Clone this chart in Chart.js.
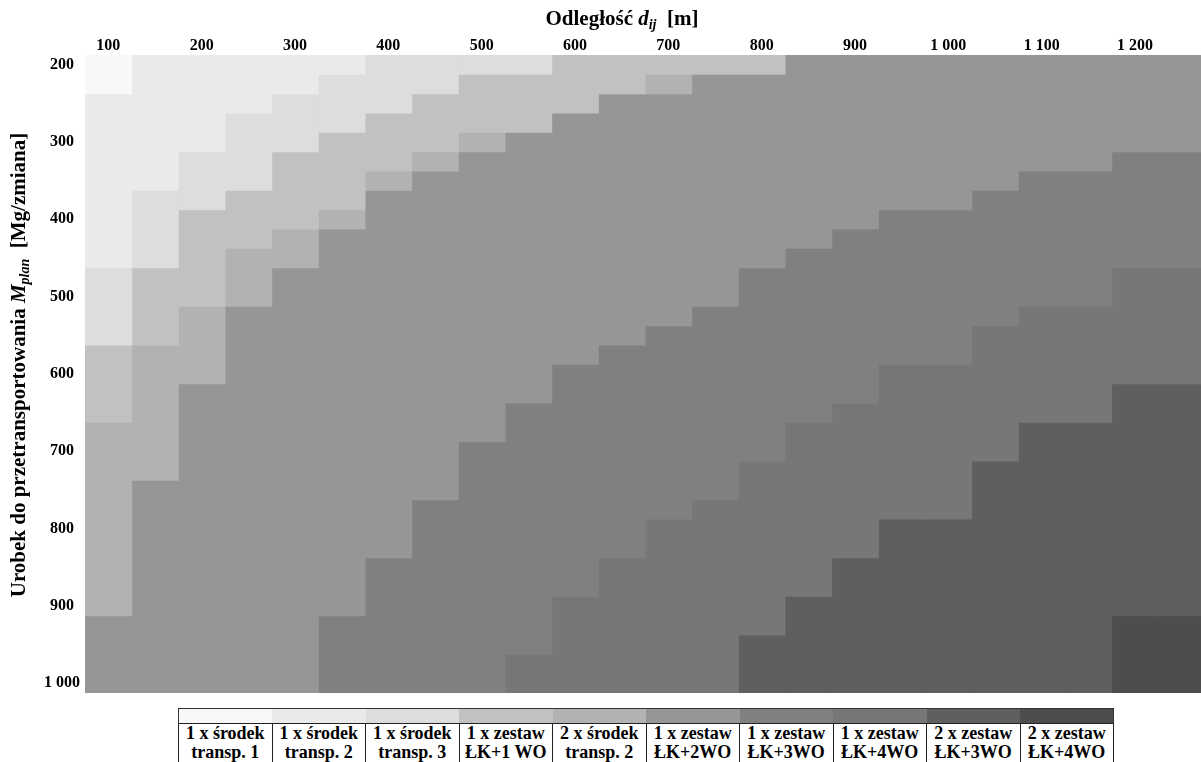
<!DOCTYPE html>
<html>
<head>
<meta charset="utf-8">
<script src="https://cdn.jsdelivr.net/npm/chart.js@4.4.1/dist/chart.umd.min.js"></script>
<style>
  html, body { margin: 0; padding: 0; background: #fff; width: 1201px; height: 762px; overflow: hidden; }
  .serif { font-family: "Liberation Serif", "Times New Roman", serif; font-weight: bold; color: #000; }
  #wrap { position: absolute; left: 0; top: 0; width: 1205px; height: 693px; }
  #xtitle { position: absolute; left: 0; top: 5px; width: 1244px; text-align: center; font-size: 21px; line-height: 26px; white-space: nowrap; }
  #ytitle { position: absolute; left: -332px; top: 352px; width: 700px; height: 26px; line-height: 26px; text-align: center;
            font-size: 21px; white-space: nowrap; transform: rotate(-90deg); }
  sub { font-size: 14px; vertical-align: -4px; line-height: 0; }
  #legend { position: absolute; left: 178px; top: 708px; width: 936px; border-collapse: collapse; table-layout: fixed; }
  #legend td { padding: 0; text-align: center; }
  #legend tr.sw td { height: 14px; border-top: 1px solid #333; }
  #legend tr.sw td:first-child { border-left: 1px solid #333; }
  #legend tr.sw td:last-child { border-right: 1px solid #333; }
  #legend tr.tx td { border: 1px solid #222; border-bottom: none; font-size: 18px; line-height: 19px; padding-top: 0; white-space: nowrap; }
</style>
</head>
<body>
<div id="wrap"><canvas id="c"></canvas></div>
<div id="xtitle" class="serif">Odległość <i>d<sub>ij</sub></i>&nbsp; [m]</div>
<div id="ytitle" class="serif">Urobek do przetransportowania <i>M<sub>plan</sub></i>&nbsp; [Mg/zmiana]</div>
<table id="legend" class="serif"><tr class="sw"></tr><tr class="tx"></tr></table>
<script>
// Haul distance d_ij [m] – one column per value
const distances = [100, 150, 200, 250, 300, 350, 400, 450, 500, 550, 600, 650,
                   700, 750, 800, 850, 900, 950, 1000, 1050, 1100, 1150, 1200, 1250];
// Planned output M_plan [Mg/shift] – one row per value
const outputs = [200, 225, 250, 275, 300, 325, 350, 375, 400, 425, 450, 475, 500, 525, 550, 575, 600,
                 625, 650, 675, 700, 725, 750, 775, 800, 825, 850, 875, 900, 925, 950, 975, 1000];
const outputStep = 25;

// Axis tick labels
const xTickValues = [100, 200, 300, 400, 500, 600, 700, 800, 900, 1000, 1100, 1200];
const yTickValues = [200, 300, 400, 500, 600, 700, 800, 900, 1000];

// Transport variants (legend) and their fill colours
const classLabels = [
  ['1 x środek', 'transp. 1'], ['1 x środek', 'transp. 2'], ['1 x środek', 'transp. 3'],
  ['1 x zestaw', 'ŁK+1 WO'], ['2 x środek', 'transp. 2'], ['1 x zestaw', 'ŁK+2WO'],
  ['1 x zestaw', 'ŁK+3WO'], ['1 x zestaw', 'ŁK+4WO'], ['2 x zestaw', 'ŁK+3WO'], ['2 x zestaw', 'ŁK+4WO']
];
const classColors = ['#f8f8f8', '#eaeaea', '#dddddd', '#c1c1c1', '#b2b2b2',
                     '#969696', '#808080', '#777777', '#5f5f5f', '#4d4d4d'];

// For each distance: [variant, output from which that variant is chosen]
const zoneStarts = [
  [[0, 200], [1, 250], [2, 475], [3, 575], [4, 675], [5, 925]],            // 100
  [[1, 200], [2, 375], [3, 475], [4, 575], [5, 750]],                      // 150
  [[1, 200], [2, 325], [3, 400], [4, 525], [5, 625]],                      // 200
  [[1, 200], [2, 275], [3, 375], [4, 450], [5, 525]],                      // 250
  [[1, 200], [2, 250], [3, 325], [4, 425], [5, 475]],                      // 300
  [[1, 200], [2, 225], [3, 300], [4, 400], [5, 425], [6, 925]],            // 350
  [[2, 200], [3, 275], [4, 350], [5, 375], [6, 850]],                      // 400
  [[2, 200], [3, 250], [4, 325], [5, 350], [6, 775]],                      // 450
  [[2, 200], [3, 225], [4, 300], [5, 325], [6, 700]],                      // 500
  [[2, 200], [3, 225], [5, 300], [6, 650], [7, 975]],                      // 550
  [[3, 200], [5, 275], [6, 600], [7, 900]],                                // 600
  [[3, 200], [5, 250], [6, 575], [7, 850]],                                // 650
  [[3, 200], [4, 225], [5, 250], [6, 550], [7, 800]],                      // 700
  [[3, 200], [5, 225], [6, 525], [7, 775]],                                // 750
  [[3, 200], [5, 225], [6, 475], [7, 725], [8, 950]],                      // 800
  [[5, 200], [6, 450], [7, 675], [8, 900]],                                // 850
  [[5, 200], [6, 425], [7, 650], [8, 850]],                                // 900
  [[5, 200], [6, 400], [7, 600], [8, 800]],                                // 950
  [[5, 200], [6, 400], [7, 600], [8, 800]],                                // 1000
  [[5, 200], [6, 375], [7, 550], [8, 725]],                                // 1050
  [[5, 200], [6, 350], [7, 525], [8, 675]],                                // 1100
  [[5, 200], [6, 350], [7, 525], [8, 675]],                                // 1150
  [[5, 200], [6, 325], [7, 475], [8, 625], [9, 925]],                      // 1200
  [[5, 200], [6, 325], [7, 475], [8, 625], [9, 925]]                       // 1250
];

const fmt = v => v >= 1000 ? Math.floor(v / 1000) + ' ' + String(v % 1000).padStart(3, '0') : String(v);

// One floating-bar dataset per variant: each column gets the output band where it applies
const half = outputStep / 2;
const lastOutput = outputs[outputs.length - 1];
const datasets = classLabels.map((lbl, k) => ({
  label: lbl.join(' '),
  backgroundColor: classColors[k],
  borderWidth: 0,
  inflateAmount: 0.5,
  grouped: false,
  barPercentage: 1,
  categoryPercentage: 1,
  data: zoneStarts.map(zones => {
    const i = zones.findIndex(z => z[0] === k);
    if (i < 0) return null;
    const from = zones[i][1];
    const to = i + 1 < zones.length ? zones[i + 1][1] - outputStep : lastOutput;
    return [from - half, to + half];
  })
}));

const tickFont = { family: '"Liberation Serif", "Times New Roman", serif', size: 16, weight: 'bold' };

new Chart(document.getElementById('c'), {
  type: 'bar',
  data: { labels: distances, datasets },
  options: {
    responsive: true,
    maintainAspectRatio: false,
    animation: false,
    layout: { padding: 0 },
    plugins: { legend: { display: false }, tooltip: { enabled: false } },
    scales: {
      x: {
        type: 'category',
        position: 'top',
        offset: true,
        grid: { display: false, drawTicks: false },
        border: { display: false },
        ticks: {
          autoSkip: false, maxRotation: 0, minRotation: 0, padding: 0,
          color: '#000', font: tickFont,
          callback: (val, idx) => xTickValues.includes(distances[idx]) ? fmt(distances[idx]) : ''
        },
        afterFit: s => { s.height = 55; s.paddingLeft = 0; s.paddingRight = 0; }
      },
      y: {
        type: 'linear',
        position: 'left',
        reverse: true,
        min: outputs[0] - half,
        max: lastOutput + half,
        grid: { display: false, drawTicks: false },
        border: { display: false },
        ticks: { padding: 5, crossAlign: 'center', color: '#000', font: tickFont, callback: v => fmt(v) },
        afterBuildTicks: s => { s.ticks = yTickValues.map(v => ({ value: v })); },
        afterFit: s => { s.width = 85; s.paddingTop = 0; s.paddingBottom = 0; }
      }
    }
  }
});

// Legend table: colour swatch row + two-line description row
const sw = document.querySelector('#legend tr.sw');
const tx = document.querySelector('#legend tr.tx');
classLabels.forEach((lbl, k) => {
  const a = document.createElement('td');
  a.style.background = classColors[k];
  sw.appendChild(a);
  const b = document.createElement('td');
  b.innerHTML = lbl[0] + '<br>' + lbl[1];
  tx.appendChild(b);
});
</script>
</body>
</html>
